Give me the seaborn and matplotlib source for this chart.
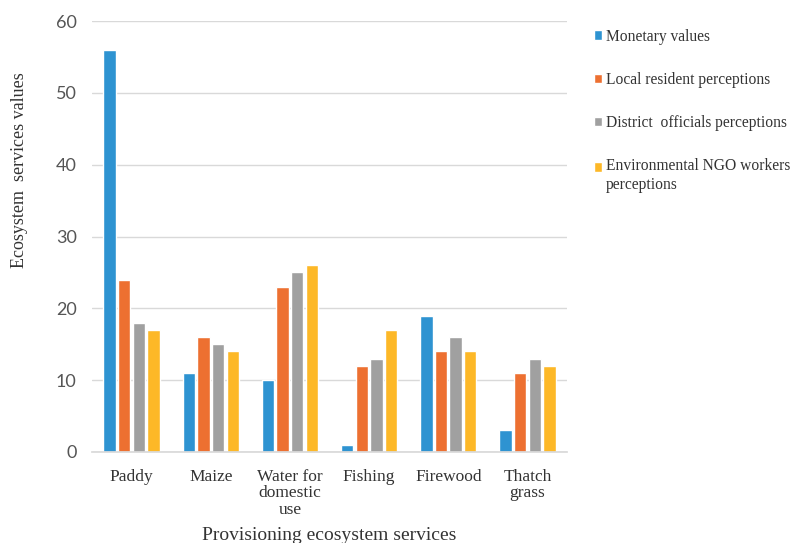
import matplotlib
matplotlib.use("Agg")
import matplotlib.pyplot as plt
import seaborn as sns
import pandas as pd

categories = ["Paddy", "Maize", "Water for\ndomestic\nuse", "Fishing", "Firewood", "Thatch\ngrass"]
series_names = ["Monetary values", "Local resident perceptions",
                "District  officials perceptions",
                "Environmental NGO workers\nperceptions"]
monetary = [56, 11, 10, 1, 19, 3]
local_resident = [24, 16, 23, 12, 14, 11]
district_officials = [18, 15, 25, 13, 16, 13]
ngo_workers = [17, 14, 26, 17, 14, 12]
colors = ["#2E93D1", "#ED7031", "#A0A0A0", "#FDB827"]

rows = []
for name, vals in zip(series_names, [monetary, local_resident, district_officials, ngo_workers]):
    for cat, v in zip(categories, vals):
        rows.append({"service": cat, "group": name, "value": v})
df = pd.DataFrame(rows)

sns.set_theme(style="white")
serif = ["Liberation Serif", "DejaVu Serif"]

fig = plt.figure(figsize=(7.95, 5.43), dpi=100)
ax = fig.add_axes([0.1157, 0.1676, 0.5976, 0.7937])

sns.barplot(data=df, x="service", y="value", hue="group", order=categories,
            hue_order=series_names, palette=colors, width=0.74, gap=0.15,
            saturation=1, ax=ax, legend=True)

ax.set_ylim(0, 60)
ax.set_yticks(range(0, 61, 10))
ax.yaxis.grid(True, color="#D9D9D9", linewidth=1)
ax.set_axisbelow(True)
for s in ["top", "right", "left"]:
    ax.spines[s].set_visible(False)
ax.spines["bottom"].set_color("#D9D9D9")
ax.tick_params(axis="y", length=0, pad=11, labelcolor="#555555")
for lab in ax.get_yticklabels():
    lab.set_fontfamily(["Lato", "DejaVu Sans"])
    lab.set_fontsize(13)
ax.tick_params(axis="x", length=0, pad=12)
for lab in ax.get_xticklabels():
    lab.set_fontfamily(serif)
    lab.set_fontsize(12.5)
    lab.set_color("#333333")
    lab.set_verticalalignment("top")
    lab.set_linespacing(1.05)

ax.set_xlabel("Provisioning ecosystem services", fontfamily=serif, fontsize=14,
              color="#333333")
ax.xaxis.set_label_coords(0.5, -0.174)
ax.set_ylabel("Ecosystem  services values", fontfamily=serif, fontsize=13,
              color="#333333")
ax.yaxis.set_label_coords(-0.135, 0.654)

handles, labels = ax.get_legend_handles_labels()
leg = ax.legend(handles, labels, loc="upper left", bbox_to_anchor=(0.729, 0.973),
                bbox_transform=fig.transFigure, frameon=False,
                prop={"family": serif, "size": 11.2}, labelcolor="#333333",
                handlelength=0.55, handleheight=0.55, handletextpad=0.25,
                labelspacing=1.75)
# align the two-line entry's swatch with its first line
last = leg.legend_handles[3]
last.set_y(last.get_y() + 6.5)

fig.savefig("out.png", dpi=100)
